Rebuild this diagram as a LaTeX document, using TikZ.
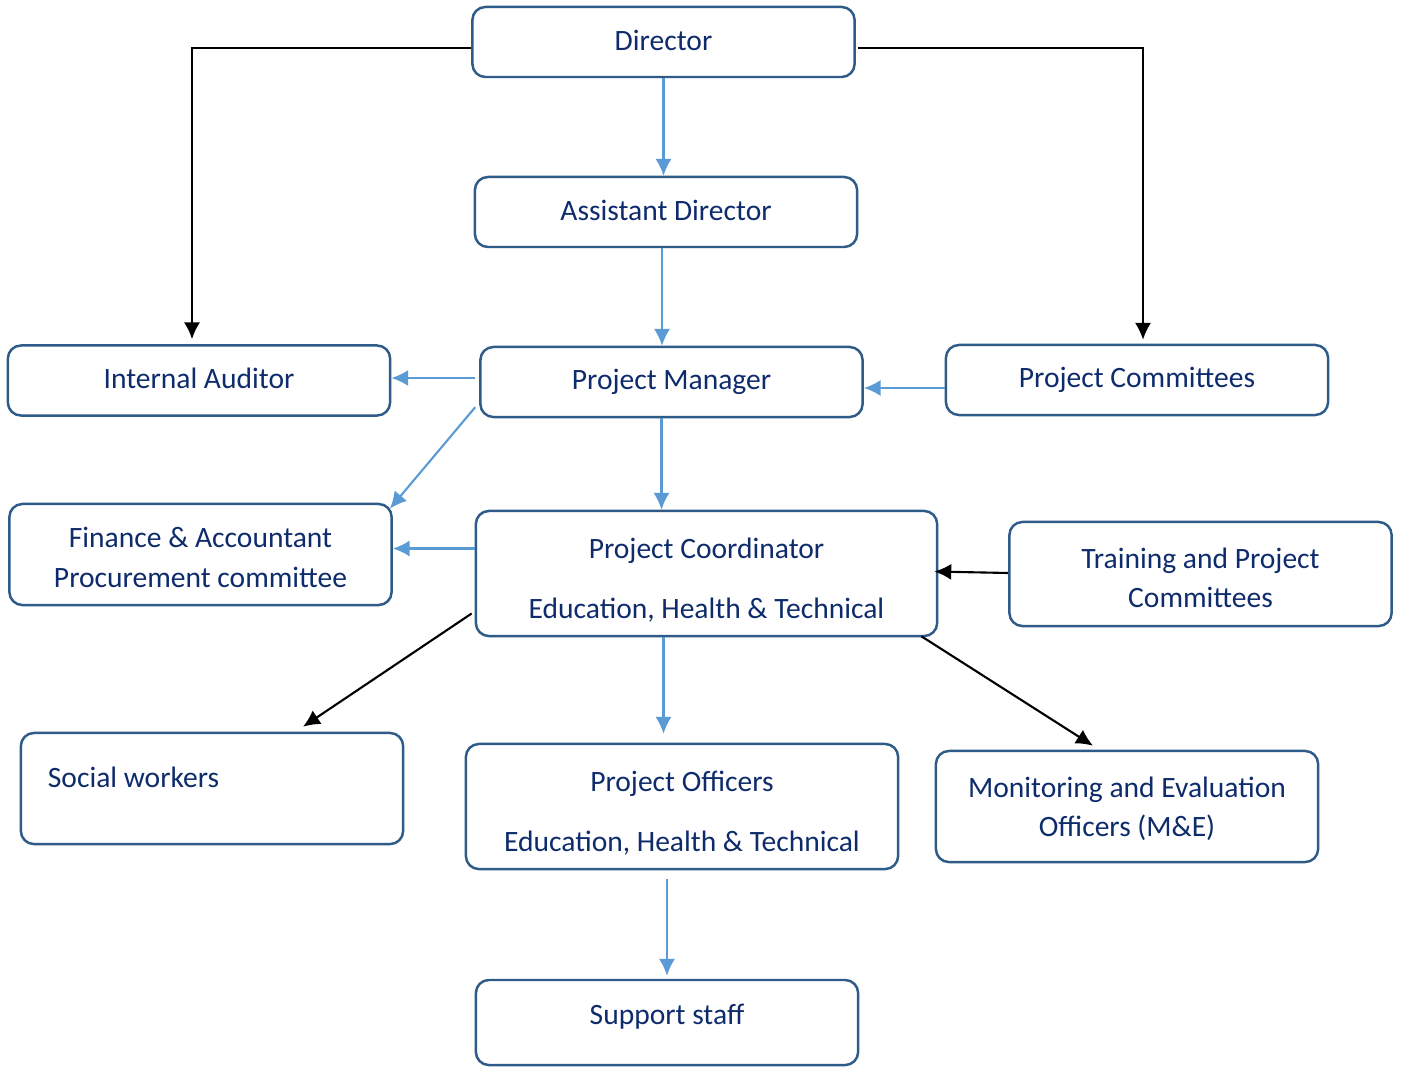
\documentclass[tikz,border=0pt]{standalone}
\usepackage{fontspec}
\setmainfont{Carlito}
\usepackage{xcolor}
\usetikzlibrary{positioning, calc, arrows.meta}
\definecolor{boxline}{HTML}{2E5B88}
\definecolor{boxtext}{HTML}{0E2B6C}
\definecolor{linkblue}{HTML}{5B9BD5}

\begin{document}
\begin{tikzpicture}[x=0.01cm, y=-0.01cm,
    box/.style={draw=boxline, line width=0.7pt, rounded corners=0.13cm, text=boxtext, align=center,
      inner sep=0pt, minimum width=3.82cm, minimum height=0.7cm, font=\fontsize{8.4}{11.1}\selectfont},
    blueln/.style={draw=linkblue, line width=0.6pt, -{Latex[length=4.8pt, width=4.6pt]}},
    blackln/.style={draw=black, line width=0.6pt, -{Latex[length=4.8pt, width=4.6pt]}}]
      \useasboundingbox (0,0) rectangle (1401,1067);

      \node[box, text depth=1.2pt] (dir) at (663.5,42) {Director};
      \node[box, text depth=1.2pt] (adir) at (666,212) {Assistant Director};
      \node[box, text depth=1.2pt] (audit) at (199,380.5) {Internal Auditor};
      \node[box] (pm) at (671.5,382) {Project Manager};
      \node[box] (pcom) at (1137,380) {Project Committees};
      \node[box, minimum height=1.01cm, text height=18.5pt, text depth=0pt] (fin) at (200.5,554.5) {Finance \& Accountant\\Procurement committee};
      \node[box, minimum width=4.61cm, minimum height=1.25cm, text height=25.4pt, text depth=0pt] (coord) at (706.5,573.5) {Project Coordinator\\[6pt]Education, Health \& Technical};
      \node[box, minimum height=1.04cm, text height=18.8pt, text depth=0pt] (train) at (1200.5,574) {Training and Project\\Committees};
      \node[box, minimum height=1.11cm, text width=3.28cm, align=flush left, text depth=6.5pt] (social) at (212,788.5) {Social workers};
      \node[box, minimum width=4.32cm, minimum height=1.25cm, text height=25.4pt, text depth=0pt] (pofc) at (682,806.5) {Project Officers\\[6pt]Education, Health \& Technical};
      \node[box, minimum height=1.11cm, text depth=0pt] (mande) at (1127,806.5) {Monitoring and Evaluation\\Officers (M\&E)};
      \node[box, minimum height=0.85cm, text depth=4.8pt] (staff) at (667,1022.5) {Support staff};

      \draw[blackln] ($(dir.west)+(0,6)$) -| ($(audit.north)+(-7,-5)$);
      \draw[blackln] ($(dir.east)+(2,6)$) -| ($(pcom.north)+(6,-4)$);

      \draw[blueln] (dir.south) -- (dir.south |- adir.north);
      \draw[blueln] ($(adir.south)+(-4,0)$) coordinate (as) -- (as |- pm.north);

      \draw[blueln] ($(pm.west)+(-4,-4)$) coordinate (pw) -- (pw -| audit.east);
      \draw[blueln] ($(pm.south west)+(-4,-11)$) -- ($(fin.north east)+(-3,6)$);
      \draw[blueln] ($(pm.south)+(-10,0)$) coordinate (pms) -- (pms |- coord.north);
      \draw[blueln] ($(pcom.west)+(0,8)$) coordinate (pcl) -- (pcl -| pm.east);

      \draw[blueln] ($(coord.west)+(0,-25)$) coordinate (cw) -- (cw -| fin.east);
      \draw[blackln] ($(train.west)+(0,-1)$) -- ($(coord.east)+(-4,-2)$);

      \draw[blackln] ($(coord.west)+(-3,40)$) -- ($(social.north)+(91,-5)$);
      \draw[blueln, shorten >=0.09cm] ($(coord.south)+(-43,0)$) coordinate (cs) -- (cs |- pofc.north);
      \draw[blackln] ($(coord.south east)+(-17,-1)$) -- ($(mande.north)+(-34,-4)$);

      \draw[blueln] ($(pofc.south)+(-15,9)$) coordinate (ps) -- ($(ps |- staff.north)+(0,-3)$);

    \end{tikzpicture}
\end{document}
